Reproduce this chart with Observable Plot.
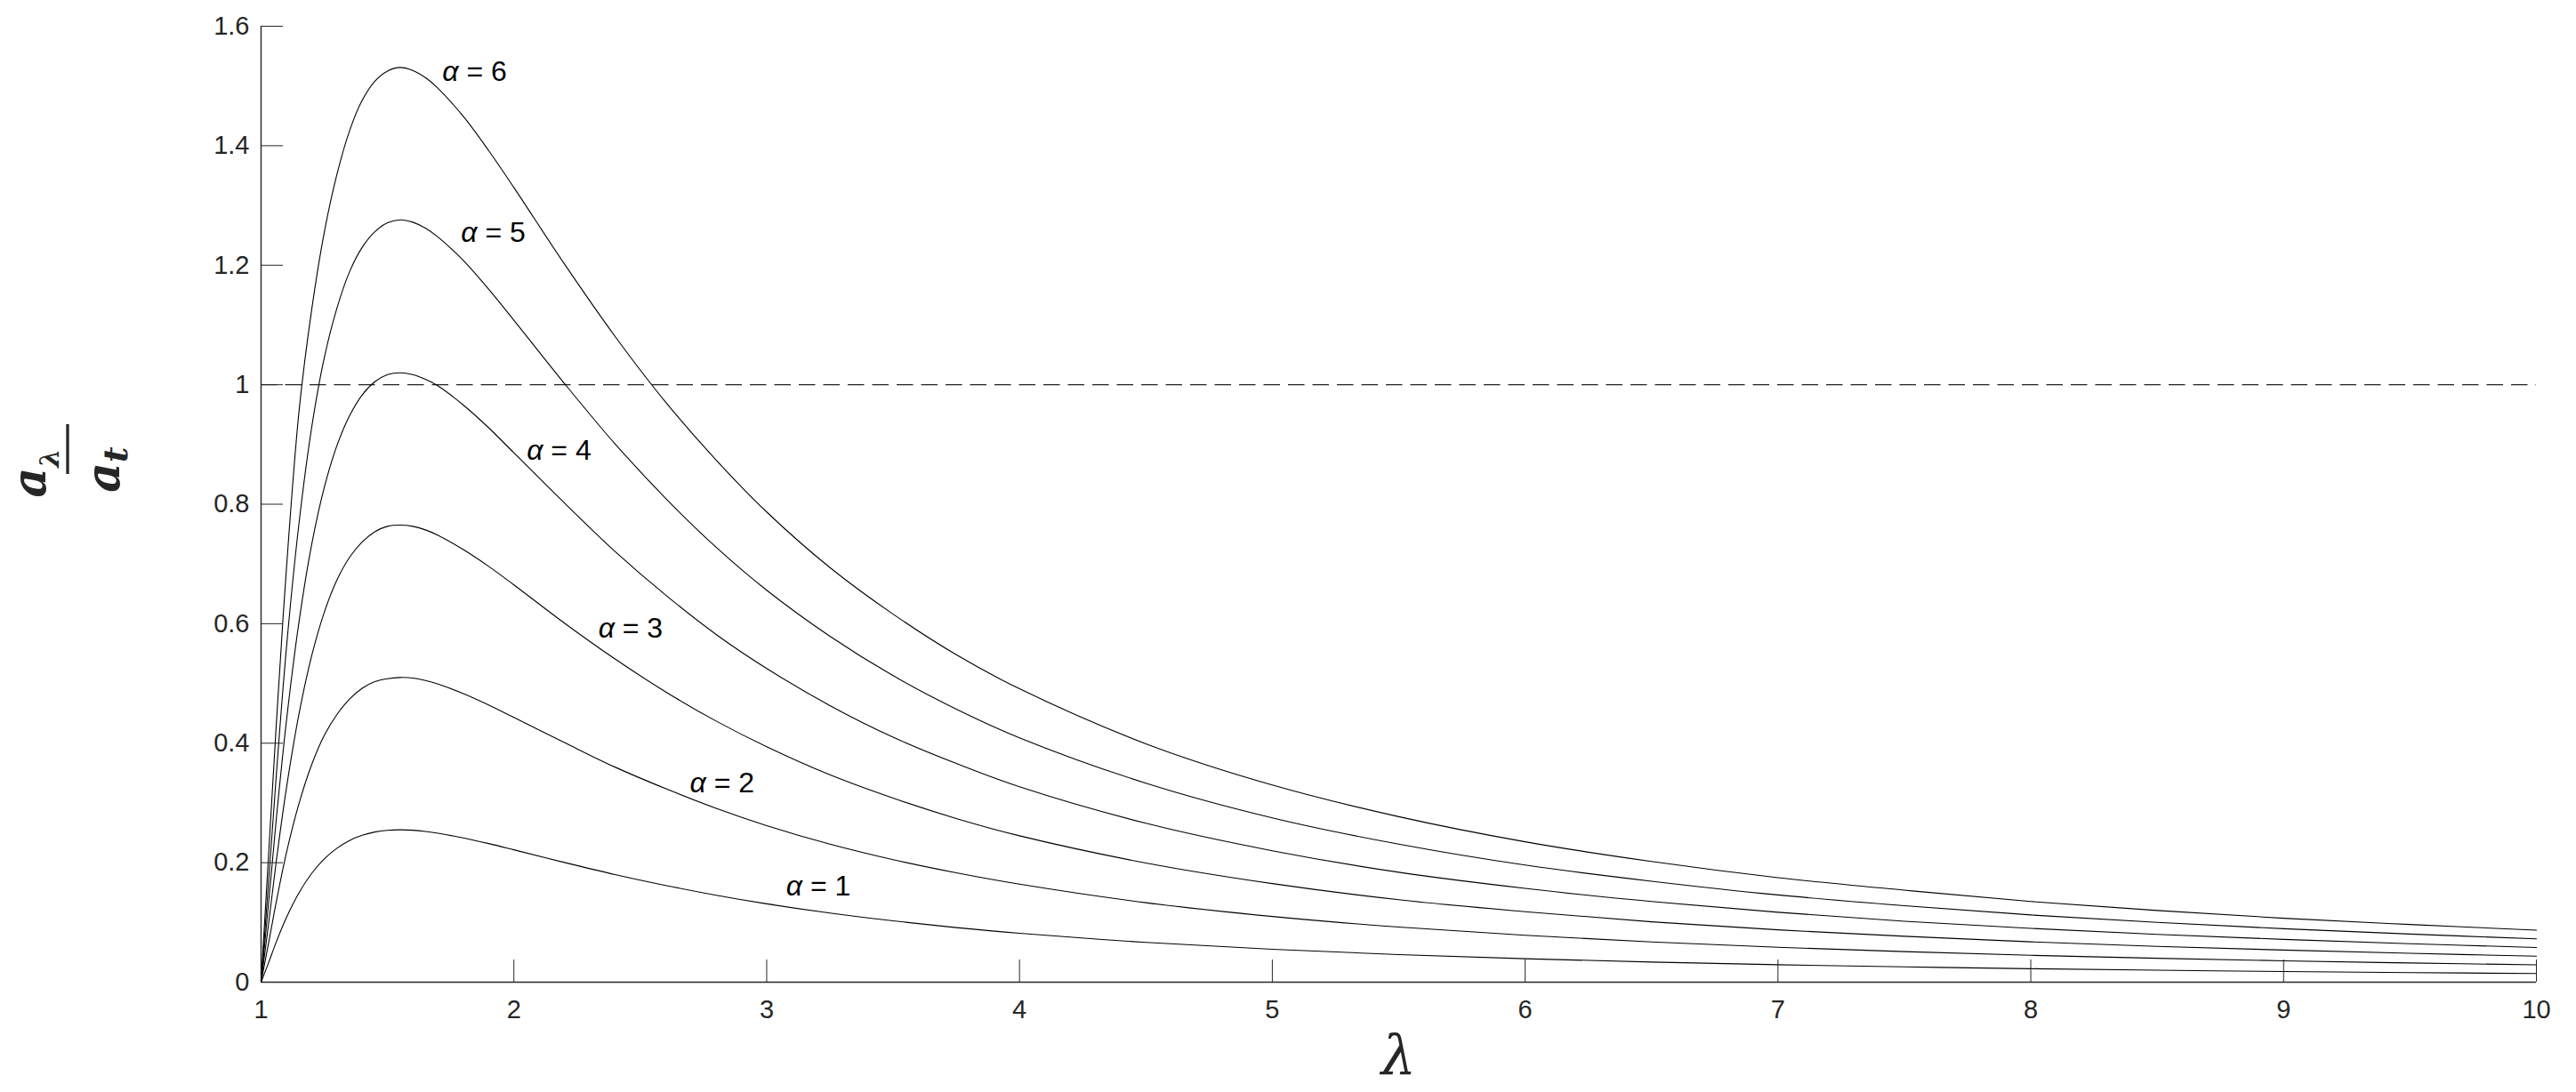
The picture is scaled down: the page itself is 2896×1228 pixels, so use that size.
<!DOCTYPE html>
<html>
<head>
<meta charset="utf-8">
<script src="https://cdn.jsdelivr.net/npm/d3@7"></script>
<script src="https://cdn.jsdelivr.net/npm/@observablehq/plot@0.6"></script>
<style>
  html, body { margin: 0; padding: 0; background: #fff; overflow: hidden; }
  #chart svg { display: block; }
</style>
</head>
<body>
<div id="chart"></div>
<script>
// λ sample positions (x values)
const lambda = [1, 1.03, 1.06, 1.1, 1.15, 1.2, 1.25, 1.3, 1.35, 1.4, 1.45, 1.5, 1.55, 1.6, 1.65, 1.7,
  1.8, 1.9, 2.0, 2.2, 2.4, 2.6, 2.8, 3.0, 3.25, 3.5, 3.75, 4.0, 4.5, 5.0, 5.5, 6.0, 6.5, 7.0, 7.5, 8.0, 8.5, 9.0, 9.5, 10];

// a_λ / a_t, one array per α
const alpha1 = [0, 0.0329, 0.0672, 0.1079, 0.1496, 0.1819, 0.2063, 0.2242, 0.2371, 0.2458, 0.2513, 0.2542, 0.2551, 0.2543, 0.2523, 0.2494,
  0.2415, 0.2320, 0.2216, 0.2004, 0.1802, 0.1619, 0.1456, 0.1312, 0.1157, 0.1026, 0.0914, 0.0818, 0.0665, 0.0550, 0.0461, 0.0392, 0.0337, 0.0292, 0.0256, 0.0225, 0.0200, 0.0179, 0.0161, 0.0145];
const alpha2 = [0, 0.066, 0.134, 0.216, 0.299, 0.364, 0.413, 0.448, 0.474, 0.492, 0.503, 0.508, 0.510, 0.509, 0.505, 0.499,
  0.483, 0.464, 0.443, 0.401, 0.360, 0.324, 0.291, 0.262, 0.231, 0.205, 0.183, 0.164, 0.133, 0.110, 0.0922, 0.0784, 0.0674, 0.0584, 0.0512, 0.0450, 0.0400, 0.0358, 0.0322, 0.0290];
const alpha3 = [0, 0.099, 0.202, 0.324, 0.449, 0.546, 0.619, 0.673, 0.711, 0.737, 0.754, 0.763, 0.765, 0.763, 0.757, 0.748,
  0.724, 0.696, 0.665, 0.601, 0.541, 0.486, 0.437, 0.394, 0.347, 0.308, 0.274, 0.245, 0.1995, 0.165, 0.138, 0.118, 0.101, 0.0876, 0.0768, 0.0675, 0.0600, 0.0537, 0.0483, 0.0435];
const alpha4 = [0, 0.134, 0.272, 0.436, 0.603, 0.732, 0.828, 0.898, 0.948, 0.983, 1.005, 1.017, 1.020, 1.017, 1.009, 0.998,
  0.966, 0.928, 0.886, 0.802, 0.721, 0.648, 0.582, 0.525, 0.463, 0.410, 0.366, 0.327, 0.266, 0.220, 0.184, 0.157, 0.135, 0.117, 0.102, 0.0900, 0.0800, 0.0716, 0.0644, 0.0580];
const alpha5 = [0, 0.170, 0.345, 0.558, 0.768, 0.928, 1.045, 1.128, 1.189, 1.230, 1.256, 1.271, 1.276, 1.272, 1.262, 1.247,
  1.208, 1.160, 1.108, 1.002, 0.901, 0.810, 0.728, 0.656, 0.579, 0.513, 0.457, 0.409, 0.333, 0.275, 0.231, 0.196, 0.169, 0.146, 0.128, 0.1125, 0.100, 0.0895, 0.0805, 0.0725];
const alpha6 = [0, 0.215, 0.430, 0.690, 0.955, 1.125, 1.255, 1.352, 1.425, 1.476, 1.508, 1.525, 1.531, 1.526, 1.514, 1.496,
  1.449, 1.392, 1.330, 1.202, 1.081, 0.971, 0.874, 0.787, 0.694, 0.616, 0.548, 0.491, 0.399, 0.330, 0.277, 0.235, 0.202, 0.175, 0.154, 0.135, 0.120, 0.107, 0.0966, 0.0870];

const alphas = [1, 2, 3, 4, 5, 6];
const series = [alpha1, alpha2, alpha3, alpha4, alpha5, alpha6];

// curve labels
const labelText = ["α = 1", "α = 2", "α = 3", "α = 4", "α = 5", "α = 6"];
const labelX = [3.077, 2.696, 2.334, 2.051, 1.791, 1.717];
const labelY = [0.1446, 0.3185, 0.577, 0.874, 1.239, 1.508];

const xTicks = [1, 2, 3, 4, 5, 6, 7, 8, 9, 10];
const yTicks = [0, 0.2, 0.4, 0.6, 0.8, 1, 1.2, 1.4, 1.6];
const refLevel = [1];

const rows = alphas.flatMap((a, i) => lambda.map((l, j) => ({lambda: l, value: series[i][j], alpha: a})));
const labels = labelText.map((t, i) => ({text: t, x: labelX[i], y: labelY[i]}));

const axisColor = "#262626";

const plot = Plot.plot({
  width: 2896,
  height: 1228,
  marginLeft: 293,
  marginRight: 45,
  marginTop: 29,
  marginBottom: 124,
  style: {fontFamily: "'Liberation Sans', Arial, sans-serif", fontSize: "29px", color: axisColor, background: "#fff"},
  x: {domain: [1, 10]},
  y: {domain: [0, 1.6]},
  marks: [
    Plot.ruleY(refLevel, {stroke: "#222", strokeWidth: 1.2, strokeDasharray: "18.5,9"}),
    Plot.line(rows, {x: "lambda", y: "value", z: "alpha", stroke: "#000", strokeWidth: 1.1, curve: "catmull-rom"}),
    Plot.axisX({ticks: xTicks, tickSize: -25, tickPadding: 44.5, label: null, tickFormat: d => String(d), stroke: axisColor, fill: axisColor, fontSize: 29}),
    Plot.axisY({ticks: yTicks, tickSize: -25, tickPadding: 38, label: null, tickFormat: d => String(d), stroke: axisColor, fill: axisColor, fontSize: 29}),
    Plot.ruleX([1], {stroke: axisColor, strokeWidth: 1.4}),
    Plot.ruleY([0], {stroke: axisColor, strokeWidth: 1.4}),
    Plot.text(labels, {x: "x", y: "y", text: "text", textAnchor: "start", lineAnchor: "bottom", fontSize: 32, fill: "#000", fontFamily: "'Liberation Sans', Arial, sans-serif"}),
    Plot.text(["λ"], {frameAnchor: "bottom", dy: 103, lineAnchor: "bottom", fontSize: 62, fontStyle: "italic", fill: axisColor, fontFamily: "'DejaVu Serif', serif"})
  ]
});

document.getElementById("chart").appendChild(plot);

// italic α in curve labels
const svg = d3.select(plot);
svg.selectAll("text").each(function() {
  const t = d3.select(this);
  const s = t.text();
  if (/^α = \d$/.test(s)) {
    t.text(null);
    t.append("tspan").attr("font-style", "italic").text("α");
    t.append("tspan").text(s.slice(1));
  }
});

// rotated fraction a_λ / a_t as the y-axis label
const g = svg.append("g")
  .attr("transform", "translate(76,505) rotate(-90)")
  .attr("fill", axisColor)
  .attr("font-family", "'DejaVu Serif', serif")
  .attr("font-weight", "bold")
  .attr("font-style", "italic");
const num = g.append("text").attr("x", -27).attr("y", -25).attr("font-size", 52);
num.append("tspan").text("a");
num.append("tspan").attr("dy", 15).attr("font-size", 30).text("λ");
g.append("line").attr("x1", -28).attr("x2", 28).attr("y1", 0).attr("y2", 0)
  .attr("stroke", axisColor).attr("stroke-width", 3.3);
const den = g.append("text").attr("x", -23).attr("y", 58).attr("font-size", 52);
den.append("tspan").text("a");
den.append("tspan").attr("dy", 9).attr("font-size", 38).text("t");
</script>
</body>
</html>
